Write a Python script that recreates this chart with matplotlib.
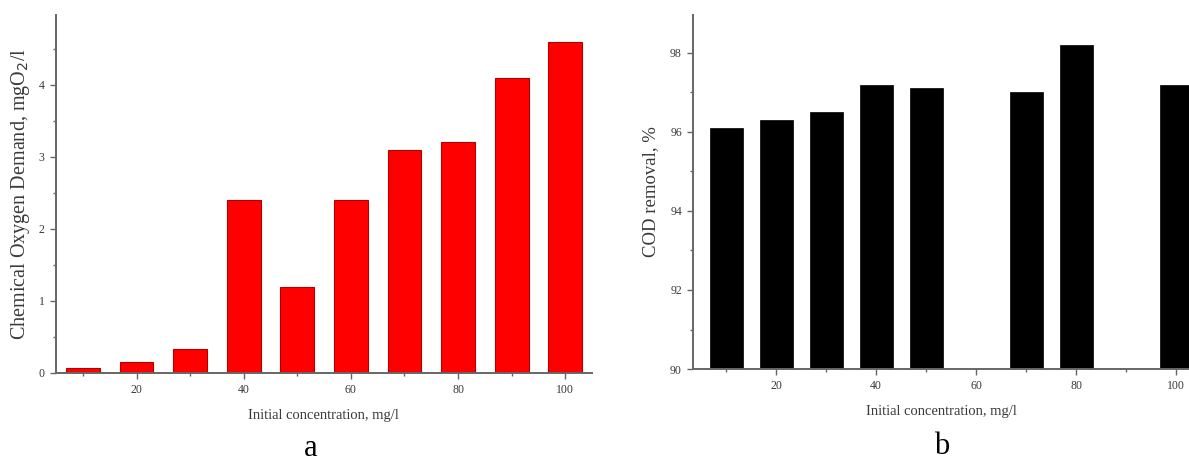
import matplotlib
matplotlib.use("Agg")
import matplotlib.pyplot as plt
import numpy as np
from matplotlib.ticker import MultipleLocator

plt.rcParams["font.family"] = ["Liberation Serif", "DejaVu Serif"]

# initial concentration, mg/l
conc = [10, 20, 30, 40, 50, 60, 70, 80, 90, 100]
# panel a: chemical oxygen demand, mgO2/l
cod = [0.07, 0.15, 0.33, 2.4, 1.2, 2.4, 3.1, 3.2, 4.1, 4.6]
# panel b: COD removal, % (no bar at 60 and 90)
removal = [96.1, 96.3, 96.5, 97.2, 97.1, np.nan, 97.0, 98.2, np.nan, 97.2]

text_color = "#3a3a3a"
axis_color = "#666666"


def style_axes(ax):
    for side in ["top", "right"]:
        ax.spines[side].set_visible(False)
    for side in ["left", "bottom"]:
        ax.spines[side].set_color(axis_color)
        ax.spines[side].set_linewidth(1.4)
    ax.tick_params(which="major", direction="out", length=4, width=1.0,
                   color=axis_color, labelsize=8.5, labelcolor=text_color, pad=4)
    ax.tick_params(which="minor", direction="out", length=2.5, width=1.0,
                   color=axis_color)
    ax.xaxis.set_major_locator(MultipleLocator(20))
    ax.xaxis.set_minor_locator(MultipleLocator(10))


fig = plt.figure(figsize=(11.89, 4.68), dpi=100)

# panel a
ax1 = fig.add_axes([0.0468, 0.203, 0.4511, 0.765])
ax1.bar(conc, cod, width=6.3, color="#ff0000", edgecolor="#b00000", linewidth=0.8)
ax1.set_xlim(4.9, 105)
ax1.set_ylim(0, 4.97)
ax1.yaxis.set_major_locator(MultipleLocator(1))
ax1.yaxis.set_minor_locator(MultipleLocator(0.5))
style_axes(ax1)
ax1.set_xlabel("Initial concentration, mg/l", fontsize=10.5, color=text_color, labelpad=9)
ax1.set_ylabel("Chemical Oxygen Demand, mgO$_2$/l", fontsize=14.5, color=text_color, labelpad=5)

# panel b
ax2 = fig.add_axes([0.5829, 0.2115, 0.4171, 0.7565])
ax2.bar(conc, removal, width=6.6, color="black", edgecolor="black", linewidth=0.5)
ax2.set_xlim(3.4, 102.6)
ax2.set_ylim(90, 98.96)
ax2.yaxis.set_major_locator(MultipleLocator(2))
ax2.yaxis.set_minor_locator(MultipleLocator(1))
style_axes(ax2)
ax2.set_xlabel("Initial concentration, mg/l", fontsize=10.5, color=text_color, labelpad=9)
ax2.set_ylabel("COD removal, %", fontsize=13.5, color=text_color, labelpad=8)

fig.text(0.261, 0.042, "a", fontsize=22, ha="center", va="center", color="black")
fig.text(0.792, 0.046, "b", fontsize=22, ha="center", va="center", color="black")

fig.savefig("out.png", dpi=100)
